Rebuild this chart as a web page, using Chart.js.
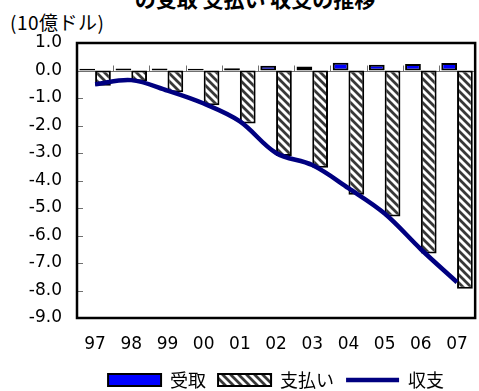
<!DOCTYPE html>
<html><head><meta charset="utf-8">
<script src="https://cdn.jsdelivr.net/npm/chart.js@4/dist/chart.umd.min.js"></script>
<style>
html,body{margin:0;padding:0;background:#fff;overflow:hidden;width:479px;height:391px;}
#wrap{position:relative;width:479px;height:391px;overflow:hidden;}
#title{position:absolute;left:0;width:510px;top:-12px;text-align:center;font-weight:bold;font-size:21px;font-family:"Noto Sans CJK JP";line-height:21px;white-space:nowrap;color:#000;}
#unit{position:absolute;left:10px;top:12px;font-size:19px;letter-spacing:0.5px;font-family:"Noto Sans CJK JP";line-height:20px;white-space:nowrap;color:#000;}
canvas{position:absolute;left:0;top:0;}
</style></head>
<body><div id="wrap"><div id="title">の受取 支払い 収支の推移</div><div id="unit">(10億ドル)</div><canvas id="c" width="484" height="391"></canvas></div>
<script>
const years = ['97','98','99','00','01','02','03','04','05','06','07'];
const receipts = [0.06,0.07,0.07,0.06,0.08,0.17,0.15,0.28,0.21,0.24,0.27];
const payments = [-0.55,-0.39,-0.79,-1.26,-1.93,-3.11,-3.54,-4.52,-5.31,-6.65,-7.94];
const balance = [-0.50,-0.35,-0.73,-1.20,-1.85,-3.00,-3.44,-4.28,-5.20,-6.50,-7.70];
const seriesNames = ['受取','支払い','収支'];
const yMin = -9, yMax = 1, yStep = 1;

function hatch(){
  const c=document.createElement('canvas'); c.width=8; c.height=8;
  const x=c.getContext('2d');
  x.fillStyle='#fff'; x.fillRect(0,0,8,8);
  x.strokeStyle='#383838'; x.lineWidth=2.8;
  x.beginPath();
  x.moveTo(-2,-2); x.lineTo(10,10);
  x.moveTo(-2,6); x.lineTo(2,10);
  x.moveTo(6,-2); x.lineTo(10,2);
  x.stroke();
  return x.createPattern(c,'repeat');
}

const decor = {
  id:'decor',
  beforeDatasetsDraw(chart){
    const {ctx, chartArea:a, scales:{x,y}} = chart;
    ctx.save();
    ctx.strokeStyle='#707070'; ctx.lineWidth=1;
    const y0 = Math.round(y.getPixelForValue(0))+0.5;
    ctx.beginPath();
    ctx.moveTo(a.left,y0); ctx.lineTo(a.right,y0);
    for(let i=1;i<years.length;i++){
      const px = Math.round((x.getPixelForTick(i-1)+x.getPixelForTick(i))/2)+0.5;
      ctx.moveTo(px,y0); ctx.lineTo(px,y0-6);
    }
    y.ticks.forEach(t=>{
      const py=Math.round(y.getPixelForValue(t.value))+0.5;
      ctx.moveTo(a.left,py); ctx.lineTo(a.left+6,py);
    });
    ctx.stroke();
    ctx.restore();
  },
  afterDraw(chart){
    const {ctx, chartArea:a} = chart;
    ctx.save();
    ctx.strokeStyle='#000'; ctx.lineWidth=2.5;
    ctx.strokeRect(a.left, a.top, a.right-a.left, a.bottom-a.top);
    ctx.restore();
  }
};

const tickFont = {family:'"DejaVu Sans"', size:17};

new Chart(document.getElementById('c'), {
  type:'bar',
  data:{
    labels: years,
    datasets:[
      {type:'bar', label:seriesNames[0], data:receipts, backgroundColor:'#0000ff', borderColor:'#000', borderWidth:2, borderSkipped:false, pointStyle:'rect', order:1, categoryPercentage:0.87, barPercentage:1.0},
      {type:'bar', label:seriesNames[1], data:payments, backgroundColor:hatch(), borderColor:'#000', borderWidth:2, borderSkipped:false, pointStyle:'rect', order:1, categoryPercentage:0.87, barPercentage:1.0},
      {type:'line', label:seriesNames[2], data:balance, borderColor:'#000080', backgroundColor:'#000080', borderWidth:4.5, pointRadius:0, pointHoverRadius:0, pointStyle:'line', pointBorderWidth:4.5, pointBorderColor:'#000080', tension:0.35, fill:false, order:0}
    ]
  },
  options:{
    responsive:false,
    animation:false,
    devicePixelRatio:1,
    layout:{padding:{top:43, right:3, left:0, bottom:-8}},
    scales:{
      x:{
        grid:{display:false, drawTicks:false},
        border:{display:false},
        ticks:{font:tickFont, color:'#000', padding:16, maxRotation:0, autoSkip:false},
        afterFit(s){ s.height = 41; }
      },
      y:{
        min:yMin, max:yMax,
        grid:{display:false, drawTicks:false},
        border:{display:false},
        ticks:{stepSize:yStep, font:tickFont, color:'#000', padding:15, callback:v=>v.toFixed(1)},
        afterFit(s){ s.width = 77; }
      }
    },
    plugins:{
      legend:{
        position:'bottom',
        fullSize:false,
        labels:{
          usePointStyle:true, pointStyleWidth:53, boxHeight:12,
          font:{family:'"Noto Sans CJK JP"', size:18}, color:'#000', padding:12,
          sort:(a,b)=>a.datasetIndex-b.datasetIndex
        }
      },
      title:{display:false},
      tooltip:{enabled:false}
    }
  },
  plugins:[decor]
});
</script>
</body></html>
